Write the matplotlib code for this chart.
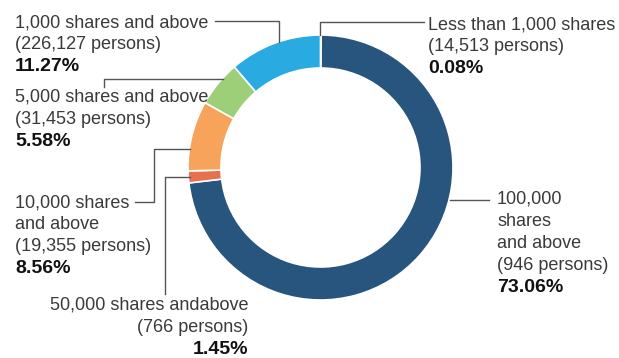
import matplotlib
matplotlib.use("Agg")
import matplotlib.pyplot as plt

# data, clockwise from 12 o'clock
groups = ["Less than 1,000 shares", "100,000\nshares\nand above", "50,000 shares andabove",
          "10,000 shares\nand above", "5,000 shares and above", "1,000 shares and above"]
persons = ["14,513", "946", "766", "19,355", "31,453", "226,127"]
percents = [0.08, 73.06, 1.45, 8.56, 5.58, 11.27]
colors = ["#a7b3d8", "#28557e", "#e8704f", "#f7a35c", "#9ccf78", "#29abe2"]

# label anchors in pixels: x, first baseline, alignment
label_pos = [(428, 29, "left"), (497, 204, "left"), (248, 310, "right"),
             (15, 207, "left"), (15, 102, "left"), (15, 27, "left")]
leaders = [
    [(424, 22), (320, 22), (320, 35)],
    [(450, 200), (489, 200)],
    [(165, 294), (165, 177), (190, 177)],
    [(135, 202), (154, 202), (154, 149), (190, 149)],
    [(104, 87), (104, 79), (223, 79)],
    [(215, 21), (279, 21), (279, 42)],
]

W, H = 619, 358
LINE = 22

plt.rcParams['font.family'] = ['Liberation Sans', 'DejaVu Sans']
fig = plt.figure(figsize=(W / 100, H / 100), dpi=100)
ax = fig.add_axes([0, 0, 1, 1])

ax.pie(percents, colors=colors, center=(320.5, 167.5), radius=132.5,
       startangle=270, counterclock=True,
       wedgeprops=dict(width=33, edgecolor="white", linewidth=1.2))
ax.set_xlim(0, W)
ax.set_ylim(H, 0)
ax.set_aspect("auto")
ax.axis("off")

for i, name in enumerate(groups):
    x, y0, ha = label_pos[i]
    lines = name.split("\n") + ["(" + persons[i] + " persons)"]
    for k, ln in enumerate(lines):
        ax.text(x, y0 + k * LINE, ln, ha=ha, va="baseline", fontsize=13, color="#3a3a3a")
    ax.text(x, y0 + len(lines) * LINE, "%.2f%%" % percents[i], ha=ha, va="baseline",
            fontsize=14, fontweight="bold", color="#111111")
    xs = [p[0] for p in leaders[i]]
    ys = [p[1] for p in leaders[i]]
    ax.plot(xs, ys, color="#555555", linewidth=1)

fig.savefig("out.png", dpi=100)
